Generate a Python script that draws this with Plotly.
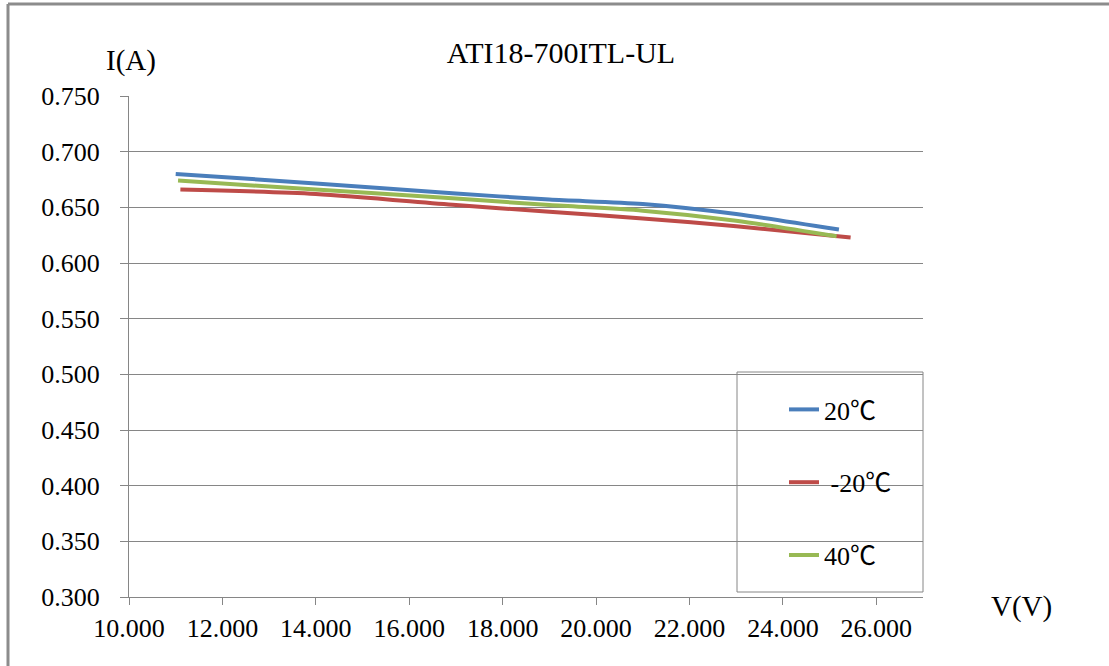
import plotly.graph_objects as go

# ---- data ----
title_text = "ATI18-700ITL-UL"
series_names = ["20℃", " -20℃", "40℃"]
series_colors = ["#4a7ebb", "#be4b48", "#98b954"]

v_20 = [11.0, 14.0, 17.0, 19.0, 21.0, 23.0, 25.2]
i_20 = [0.680, 0.6715, 0.6625, 0.657, 0.653, 0.644, 0.630]

v_m20 = [11.1, 14.0, 17.0, 19.0, 21.0, 23.0, 25.45]
i_m20 = [0.666, 0.662, 0.652, 0.646, 0.640, 0.633, 0.623]

v_40 = [11.05, 14.0, 17.0, 19.0, 21.0, 23.0, 25.15]
i_40 = [0.674, 0.666, 0.658, 0.652, 0.647, 0.638, 0.624]

x_ticks = [10, 12, 14, 16, 18, 20, 22, 24, 26]
y_ticks = [0.30, 0.35, 0.40, 0.45, 0.50, 0.55, 0.60, 0.65, 0.70, 0.75]

# ---- layout geometry (pixels) ----
W, H = 1109, 666
L, R, T, B = 129, 186, 96, 69
PW, PH = W - L - R, H - T - B

def px_x(p):
    return (p - L) / PW

def px_y(p):
    return 1 - (p - T) / PH

FONT = "Liberation Serif"
GRID = "#868686"

def legend_label(name):
    # degree-Celsius sign drawn with a CJK font like the original
    base = name.replace("℃", "")
    return base + '<span style="font-family:\'Noto Sans CJK SC\'">℃</span>'

fig = go.Figure()
for xs, ys, name, col in [(v_20, i_20, series_names[0], series_colors[0]),
                          (v_m20, i_m20, series_names[1], series_colors[1]),
                          (v_40, i_40, series_names[2], series_colors[2])]:
    fig.add_trace(go.Scatter(x=xs, y=ys, mode="lines", name=legend_label(name), legendgroup=name,
                             line=dict(color=col, width=4, shape="spline", smoothing=0.8)))

fig.update_layout(
    width=W, height=H,
    margin=dict(l=L, r=R, t=T, b=B),
    paper_bgcolor="white", plot_bgcolor="white",
    font=dict(family=FONT, size=26, color="#000000"),
    title=dict(text=title_text, x=561 / W, xref="container", xanchor="center",
               y=1 - 52 / H, yref="container", yanchor="middle",
               font=dict(family=FONT, size=30, color="#000000")),
    xaxis=dict(range=[10, 27], tickvals=x_ticks, ticktext=[f"{v:.3f}" for v in x_ticks],
               showgrid=False, zeroline=False, showline=True, linecolor=GRID, linewidth=1,
               ticks="outside", ticklen=7, tickcolor=GRID, tickwidth=1,
               tickfont=dict(family=FONT, size=26, color="#000000"), ticklabelstandoff=1),
    yaxis=dict(range=[0.30, 0.75], tickvals=y_ticks, ticktext=[f"{v:.3f}" for v in y_ticks],
               showgrid=True, gridcolor=GRID, gridwidth=1, zeroline=False,
               showline=True, linecolor=GRID, linewidth=1,
               ticks="outside", ticklen=8, tickcolor=GRID, tickwidth=1,
               tickfont=dict(family=FONT, size=26, color="#000000"), ticklabelstandoff=15),
    legend=dict(x=px_x(784), y=px_y(386), xanchor="left", yanchor="top",
                bgcolor="rgba(0,0,0,0)", borderwidth=0,
                font=dict(family=FONT, size=26, color="#000000"),
                traceorder="grouped", tracegroupgap=36),
    showlegend=True,
    annotations=[
        dict(text="I(A)", xref="paper", yref="paper", x=px_x(131), y=px_y(61),
             xanchor="center", yanchor="middle", showarrow=False,
             font=dict(family=FONT, size=29, color="#000000")),
        dict(text="V(V)", xref="paper", yref="paper", x=px_x(1021), y=px_y(606),
             xanchor="center", yanchor="middle", showarrow=False,
             font=dict(family=FONT, size=29, color="#000000")),
    ],
    shapes=[
        # legend box
        dict(type="rect", xref="paper", yref="paper", x0=px_x(737), x1=px_x(923),
             y0=px_y(592), y1=px_y(372), line=dict(color=GRID, width=1), fillcolor="rgba(0,0,0,0)"),
        # outer chart frame (top and left edges visible)
        dict(type="line", xref="paper", yref="paper", x0=px_x(8), x1=px_x(W + 5),
             y0=px_y(4), y1=px_y(4), line=dict(color="#8c8c8c", width=3)),
        dict(type="line", xref="paper", yref="paper", x0=px_x(8), x1=px_x(8),
             y0=px_y(4), y1=px_y(H + 5), line=dict(color="#8c8c8c", width=3)),
    ],
)

fig.write_html("out.html", config={"displayModeBar": False},
               post_script="document.body.style.margin='0';document.body.style.overflow='hidden';")
